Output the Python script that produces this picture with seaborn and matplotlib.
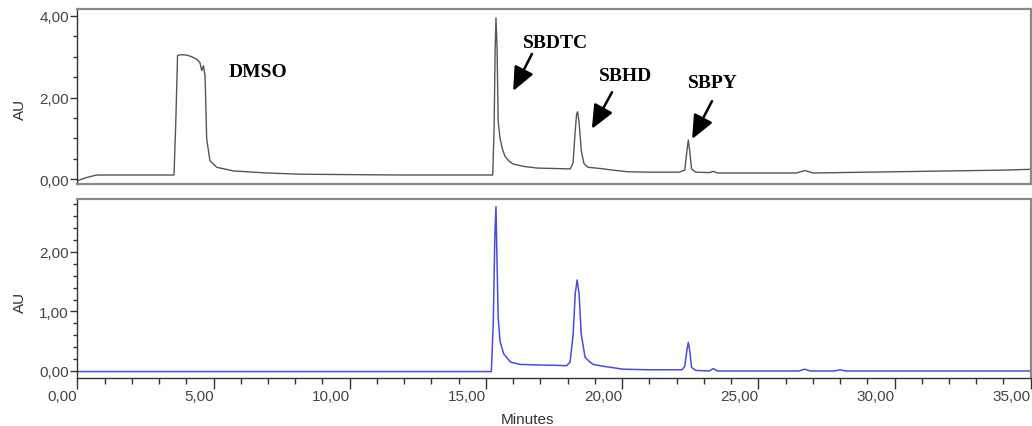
import matplotlib
matplotlib.use("Agg")
import matplotlib.pyplot as plt
from matplotlib.ticker import MultipleLocator, FuncFormatter, FixedLocator
import seaborn as sns
import pandas as pd

# ---- data (time in minutes, absorbance in AU) ----
t_top = [0.0, 0.35, 0.7, 2.0, 3.55, 3.62, 3.68, 3.8, 4.02, 4.2, 4.38, 4.5, 4.57, 4.63,
         4.69, 4.75, 4.87, 5.12, 5.73, 6.95, 8.2, 10.0, 12.0, 14.0, 15.25, 15.3, 15.34,
         15.37, 15.41, 15.45, 15.52, 15.6, 15.7, 15.85, 16.0, 16.4, 16.9, 17.5, 18.1,
         18.2, 18.27, 18.33, 18.37, 18.42, 18.5, 18.6, 18.75, 19.2, 19.55, 20.2, 21.0,
         22.1, 22.3, 22.38, 22.43, 22.48, 22.55, 22.7, 23.2, 23.35, 23.5, 24.5, 26.4,
         26.72, 27.0, 28.0, 30.0, 32.0, 34.0, 35.0]
au_top = [-0.04, 0.04, 0.1, 0.1, 0.1, 1.5, 3.03, 3.05, 3.04, 3.0, 2.94, 2.86, 2.66, 2.78,
          2.54, 0.98, 0.45, 0.29, 0.2, 0.15, 0.12, 0.11, 0.1, 0.1, 0.1, 1.2, 3.2,
          3.95, 3.2, 1.42, 1.0, 0.75, 0.56, 0.44, 0.37, 0.31, 0.27, 0.26, 0.25,
          0.4, 1.1, 1.6, 1.65, 1.4, 0.7, 0.38, 0.29, 0.26, 0.23, 0.18, 0.17,
          0.17, 0.22, 0.7, 0.96, 0.7, 0.25, 0.17, 0.16, 0.19, 0.15, 0.15, 0.15,
          0.21, 0.15, 0.16, 0.18, 0.2, 0.22, 0.24]

t_bot = [0.0, 5.0, 10.0, 15.2, 15.27, 15.33, 15.37, 15.41, 15.45, 15.52, 15.65, 15.9,
         16.25, 17.0, 17.97, 18.09, 18.2, 18.28, 18.35, 18.42, 18.5, 18.64, 18.82,
         18.94, 19.3, 20.04, 21.0, 22.2, 22.3, 22.38, 22.43, 22.48, 22.55, 22.7, 23.2,
         23.35, 23.5, 26.5, 26.7, 26.9, 27.8, 28.0, 28.2, 35.0]
au_bot = [-0.01, -0.01, -0.01, -0.01, 0.8, 2.3, 2.76, 1.8, 0.9, 0.5, 0.29, 0.15,
          0.11, 0.1, 0.09, 0.15, 0.6, 1.3, 1.53, 1.3, 0.62, 0.23, 0.15,
          0.11, 0.08, 0.03, 0.02, 0.02, 0.08, 0.35, 0.48, 0.35, 0.06, 0.01, 0.0,
          0.04, 0.0, 0.0, 0.03, 0.0, 0.0, 0.02, 0.0, 0.0]

peak_labels = ["DMSO", "SBDTC", "SBHD", "SBPY"]
label_x = [6.62, 17.55, 20.11, 23.32]
label_y = [2.63, 3.36, 2.53, 2.38]
arrow_tail_x = [None, 16.69, 19.63, 23.30]
arrow_tail_y = [None, 3.07, 2.13, 1.91]
arrow_head_x = [None, 16.00, 18.89, 22.57]
arrow_head_y = [None, 2.16, 1.23, 0.98]

# ---- styling ----
sns.set_theme(style="white")
plt.rcParams["font.family"] = ["Liberation Sans", "DejaVu Sans"]

fig = plt.figure(figsize=(10.32, 4.27), dpi=100)
W, H = 1032, 427
left = 77.3 / W
width = (1030.7 - 77.3) / W
ax1 = fig.add_axes([left, 1 - 185 / H, width, (185 - 10) / H])
ax2 = fig.add_axes([left, 1 - 379 / H, width, (379 - 200) / H])

df_top = pd.DataFrame({"Minutes": t_top, "AU": au_top})
df_bot = pd.DataFrame({"Minutes": t_bot, "AU": au_bot})

sns.lineplot(data=df_top, x="Minutes", y="AU", ax=ax1, color="#555555", linewidth=1.0,
             sort=False, estimator=None)
sns.lineplot(data=df_bot, x="Minutes", y="AU", ax=ax2, color="#4a4ae0", linewidth=1.1,
             sort=False, estimator=None)

comma = FuncFormatter(lambda v, p: f"{v:.2f}".replace(".", ","))

for ax in (ax1, ax2):
    ax.set_xlim(0, 35.0)
    for s in ax.spines.values():
        s.set_color("#8a8a8a")
        s.set_linewidth(1.6)
    ax.spines["left"].set_color("#333333")
    ax.spines["left"].set_linewidth(1.0)
    ax.yaxis.set_major_formatter(comma)
    ax.tick_params(axis="y", which="major", left=True, direction="out", length=5,
                   width=1, color="#333333", labelsize=11, labelcolor="#444444", pad=1)
    ax.tick_params(axis="y", which="minor", left=True, direction="out", length=3,
                   width=1, color="#333333")
    ax.set_ylabel("AU", fontsize=11, color="#333333")
    ax.yaxis.set_label_coords(-0.053, 0.43)
    ax.grid(False)

ax1.set_ylim(-0.12, 4.17)
ax1.yaxis.set_major_locator(FixedLocator([0, 2, 4]))
ax1.yaxis.set_minor_locator(MultipleLocator(0.5))
ax1.tick_params(axis="x", which="both", bottom=False, labelbottom=False)
ax1.set_xlabel("")

ax2.set_ylim(-0.118, 2.89)
ax2.yaxis.set_major_locator(FixedLocator([0, 1, 2]))
ax2.yaxis.set_minor_locator(MultipleLocator(0.2))
ax2.spines["bottom"].set_color("#333333")
ax2.spines["bottom"].set_linewidth(1.0)
ax2.xaxis.set_major_locator(MultipleLocator(5))
ax2.xaxis.set_minor_locator(MultipleLocator(1))
ax2.xaxis.set_major_formatter(comma)
ax2.tick_params(axis="x", which="major", bottom=True, direction="out", length=8,
                width=1, color="#333333", labelsize=11, labelcolor="#444444", pad=0)
ax2.tick_params(axis="x", which="minor", bottom=True, direction="out", length=4,
                width=1, color="#333333")
for lbl in ax2.get_xticklabels():
    lbl.set_horizontalalignment("right")
ax2.set_xlabel("Minutes", fontsize=11, color="#333333")
ax2.xaxis.set_label_coords(0.472, -0.19)

for i, lab in enumerate(peak_labels):
    ax1.text(label_x[i], label_y[i], lab, ha="center", va="center",
             fontsize=14, fontweight="bold", family="Liberation Serif", color="black")
    if arrow_tail_x[i] is not None:
        ax1.annotate("", xy=(arrow_head_x[i], arrow_head_y[i]),
                     xytext=(arrow_tail_x[i], arrow_tail_y[i]),
                     arrowprops=dict(arrowstyle="-|>,head_width=0.35,head_length=0.8",
                                     color="black", lw=1.8, shrinkA=0, shrinkB=0,
                                     mutation_scale=18))

fig.savefig("out.png", dpi=100)
